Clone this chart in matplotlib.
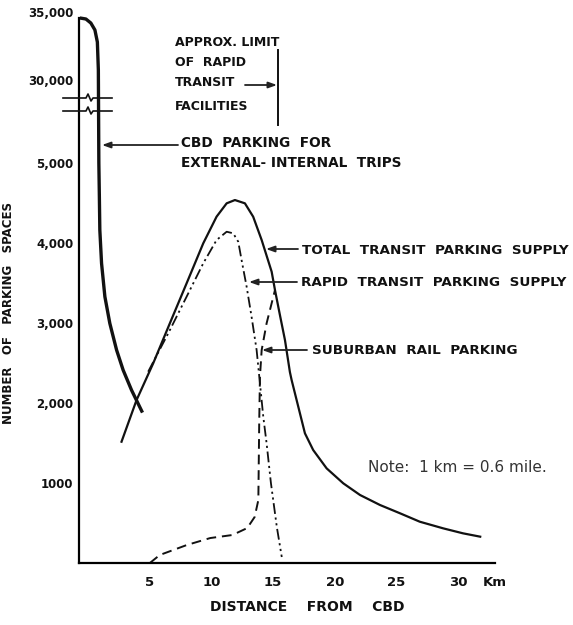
import numpy as np
import matplotlib
matplotlib.use("Agg")
import matplotlib.pyplot as plt

# ---------------- data ----------------
# CBD parking for external-internal trips (km, spaces)
cbd_km = [-0.68, -0.19, 0.21, 0.54, 0.74, 0.82, 0.86, 0.90, 0.94, 1.08, 1.35, 1.75, 2.30, 2.83, 3.51, 4.40]
cbd_sp = [34560, 34485, 34190, 33680, 32790, 30740, 5000, 4600, 4162, 3746, 3329, 2996, 2662, 2412, 2162, 1880]

# Total transit parking supply
tot_km = [2.70, 3.92, 5.27, 6.62, 7.98, 9.33, 10.41, 11.23, 11.90, 12.71, 13.38, 14.07, 14.88, 15.15,
          15.55, 15.96, 16.36, 16.50, 17.04, 17.58, 18.25, 19.34, 20.69, 22.05, 23.67, 25.30, 26.90,
          28.80, 30.40, 31.80]
tot_sp = [1516, 2037, 2496, 2996, 3496, 3996, 4329, 4496, 4537, 4496, 4329, 4037, 3641, 3412,
          3100, 2787, 2387, 2287, 1954, 1621, 1412, 1183, 996, 850, 725, 621, 516,
          433, 371, 329]

# Rapid transit parking supply
rap_km = [4.86, 6.49, 7.98, 9.33, 10.41, 11.23, 11.76, 12.17, 12.44, 12.85, 13.25, 13.66, 13.93,
          14.20, 14.47, 14.82, 15.30, 15.70]
rap_sp = [2391, 2871, 3329, 3746, 4037, 4141, 4121, 4016, 3787, 3454, 3079, 2662, 2246,
          1829, 1496, 1000, 450, 75]

# Suburban rail parking
sub_km = [5.00, 5.80, 8.00, 9.90, 11.70, 12.90, 13.50, 13.80, 13.87, 13.93, 14.07, 14.47, 15.15]
sub_sp = [0, 100, 225, 312, 350, 437, 575, 787, 1746, 2329, 2662, 2996, 3412]

x_ticks = [5, 10, 15, 20, 25, 30]
x_tick_labels = ["5", "10", "15", "20", "25", "30"]
y_ticks = [1000, 2000, 3000, 4000, 5000, 30000, 35000]
y_tick_labels = ["1000", "2,000", "3,000", "4,000", "5,000", "30,000", "35,000"]

# ---------------- broken (piecewise) y scale ----------------
def fwd(y):
    y = np.asarray(y, float)
    return np.where(y <= 5000, y * 0.08,
                    np.where(y <= 30000, 400 + (y - 5000) * 83.0 / 25000,
                             483 + (y - 30000) * 0.0136))

def inv(t):
    t = np.asarray(t, float)
    return np.where(t <= 400, t / 0.08,
                    np.where(t <= 483, 5000 + (t - 400) * 25000 / 83.0,
                             30000 + (t - 483) / 0.0136))

W, H = 573, 625
fig = plt.figure(figsize=(W / 100, H / 100), dpi=100)
ax_l, ax_r, ax_b, ax_t = 79, 495, 563, 12
ax = fig.add_axes([ax_l / W, 1 - ax_b / H, (ax_r - ax_l) / W, (ax_b - ax_t) / H])
ax.set_yscale("function", functions=(fwd, inv))

INK = "#111111"
BOLD = dict(family="DejaVu Sans", weight="bold", color=INK)

ax.plot(cbd_km, cbd_sp, color=INK, lw=2.4, solid_capstyle="butt", solid_joinstyle="round")
ax.plot(tot_km, tot_sp, color=INK, lw=1.6, solid_joinstyle="round")
ax.plot(rap_km, rap_sp, color=INK, lw=1.3, linestyle=(0, (6, 2, 1.2, 2, 1.2, 2)))
ax.plot(sub_km, sub_sp, color=INK, lw=1.4, linestyle=(0, (5, 3)))

ax.set_xlim(-0.75, 33.0)
ax.set_ylim(0, 35000)
for s in ["top", "right"]:
    ax.spines[s].set_visible(False)
ax.spines["left"].set_bounds(0, 34560)
ax.spines["left"].set_linewidth(1.6)
ax.spines["bottom"].set_linewidth(1.6)

ax.set_xticks(x_ticks)
ax.set_xticklabels(x_tick_labels, fontsize=9.5, **BOLD)
ax.set_yticks(y_ticks)
ax.set_yticklabels(y_tick_labels, fontsize=8.5, **BOLD)
ax.yaxis.set_minor_locator(matplotlib.ticker.NullLocator())
ax.tick_params(axis="x", length=0, pad=9)
ax.tick_params(axis="y", length=0, pad=4)

ax.set_ylabel("NUMBER   OF   PARKING   SPACES", fontsize=8.5, **BOLD)
ax.yaxis.set_label_coords((15 - ax_l) / (ax_r - ax_l), (ax_b - 313) / (ax_b - ax_t))
ax.set_xlabel("DISTANCE    FROM    CBD", fontsize=10, **BOLD)
ax.xaxis.set_label_coords((307 - ax_l) / (ax_r - ax_l), (ax_b - 600) / (ax_b - ax_t))

# ---------------- helpers in figure pixel coordinates ----------------
def P(px, py):
    return (px / W, 1 - py / H)

def txt(px, py, s, size=9.7, ha="left", **kw):
    d = dict(BOLD)
    d.update(kw)
    fig.text(*P(px, py), s, fontsize=size, ha=ha, va="center", **d)

def arrow(tail, tip):
    fig.add_artist(matplotlib.patches.FancyArrowPatch(
        P(*tail), P(*tip), transform=fig.transFigure,
        arrowstyle="-|>,head_length=5,head_width=1.8", color="#222222",
        lw=1.3, shrinkA=0, shrinkB=0))

def line(xs, ys, lw=1.5):
    fig.add_artist(matplotlib.lines.Line2D([x / W for x in xs], [1 - y / H for y in ys],
                                           color=INK, lw=lw))

# Km label
txt(495, 583, "Km", size=9.5, ha="center")

# axis break marks
for yb in (98, 111):
    line([63, 86, 88, 91, 93, 112], [yb, yb, yb - 4, yb + 3, yb, yb], lw=1.2)

# approx. limit of rapid transit facilities
txt(175, 42, "APPROX. LIMIT", size=9)
txt(175, 62, "OF  RAPID", size=9)
txt(175, 82, "TRANSIT", size=9)
txt(175, 107, "FACILITIES", size=9)
line([278, 278], [50, 125], lw=1.4)
arrow((245, 85), (277, 85))

# curve labels
txt(181, 143, "CBD  PARKING  FOR", size=9.8)
txt(181, 163, "EXTERNAL- INTERNAL  TRIPS", size=9.8)
arrow((178, 145), (102, 145))

txt(302, 250, "TOTAL  TRANSIT  PARKING  SUPPLY", size=9.7)
arrow((298, 249), (266, 249))

txt(301, 282, "RAPID  TRANSIT  PARKING  SUPPLY", size=9.7)
arrow((297, 282), (249, 282))

txt(312, 350, "SUBURBAN  RAIL  PARKING", size=9.7)
arrow((307, 350), (262, 350))

fig.text(*P(368, 467), "Note:  1 km = 0.6 mile.", fontsize=11, family="DejaVu Sans",
         color="#333333", ha="left", va="center")

fig.savefig("out.png", dpi=100, facecolor="white")
